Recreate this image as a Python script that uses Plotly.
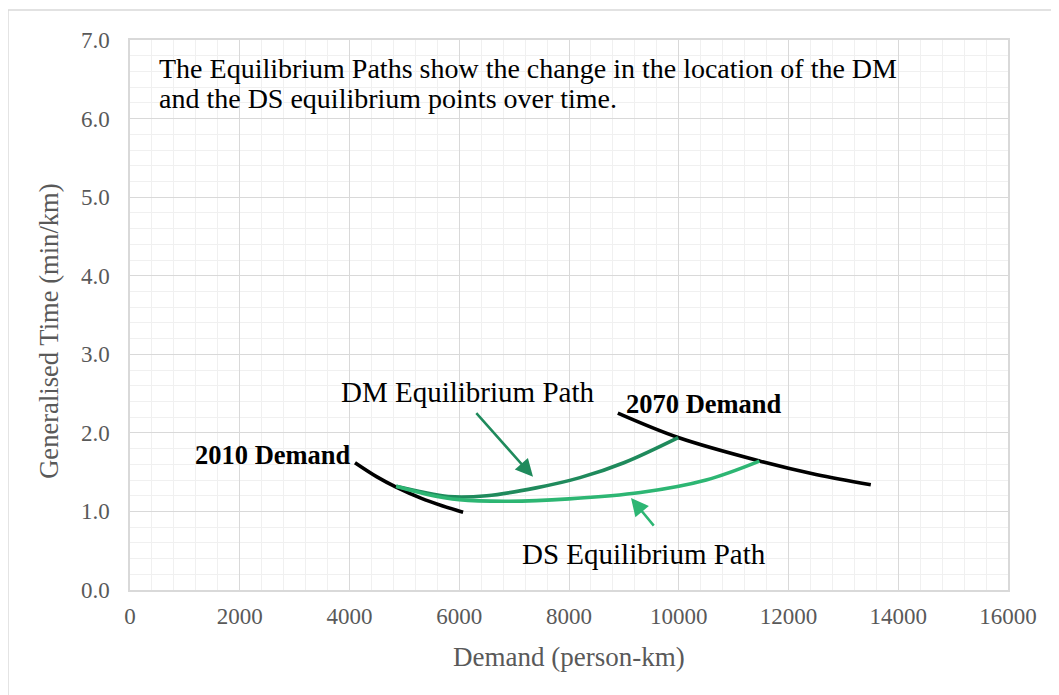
import plotly.graph_objects as go

# demand curves (person-km vs generalised time)
d2010_x = [4100, 4500, 4850, 5300, 5700, 6070]
d2010_y = [1.62, 1.44, 1.31, 1.17, 1.07, 0.99]
d2070_x = [8890, 9990, 11480, 12500, 13500]
d2070_y = [2.25, 1.94, 1.64, 1.47, 1.34]

# equilibrium paths
dm_x = [4850, 5300, 5800, 6500, 7400, 8200, 9000, 9990]
dm_y = [1.32, 1.25, 1.19, 1.20, 1.30, 1.43, 1.62, 1.94]
ds_x = [4850, 5400, 6000, 6900, 8000, 9300, 10500, 11470]
ds_y = [1.32, 1.22, 1.15, 1.13, 1.16, 1.24, 1.40, 1.64]

x_ticks = [0, 2000, 4000, 6000, 8000, 10000, 12000, 14000, 16000]
y_ticks = [0, 1, 2, 3, 4, 5, 6, 7]

FONT = "Liberation Serif, Times New Roman, serif"
GREY = "#595959"
DM_COL = "#1f8a5c"
DS_COL = "#2db673"

fig = go.Figure()
fig.add_trace(go.Scatter(x=d2010_x, y=d2010_y, mode="lines", line=dict(color="black", width=3.6, shape="spline")))
fig.add_trace(go.Scatter(x=d2070_x, y=d2070_y, mode="lines", line=dict(color="black", width=3.6, shape="spline")))
fig.add_trace(go.Scatter(x=dm_x, y=dm_y, mode="lines", line=dict(color=DM_COL, width=3.6, shape="spline")))
fig.add_trace(go.Scatter(x=ds_x, y=ds_y, mode="lines", line=dict(color=DS_COL, width=3.6, shape="spline")))

ann = []
# explanatory note
ann.append(dict(x=492, y=6.64, xref="x", yref="y", text="The Equilibrium Paths show the change in the location of the DM",
                showarrow=False, xanchor="left", yanchor="middle", font=dict(size=28, color="black", family=FONT)))
ann.append(dict(x=492, y=6.26, xref="x", yref="y", text="and the DS equilibrium points over time.",
                showarrow=False, xanchor="left", yanchor="middle", font=dict(size=28, color="black", family=FONT)))
# labels
ann.append(dict(x=6150, y=2.52, xref="x", yref="y", text="DM Equilibrium Path", showarrow=False,
                font=dict(size=29, color="black", family=FONT)))
ann.append(dict(x=9358, y=0.46, xref="x", yref="y", text="DS Equilibrium Path", showarrow=False,
                font=dict(size=29, color="black", family=FONT)))
ann.append(dict(x=2606, y=1.72, xref="x", yref="y", text="<b>2010 Demand</b>", showarrow=False,
                font=dict(size=26.5, color="black", family=FONT)))
ann.append(dict(x=10460, y=2.37, xref="x", yref="y", text="<b>2070 Demand</b>", showarrow=False,
                font=dict(size=26.5, color="black", family=FONT)))
# arrows
ann.append(dict(x=7344, y=1.44, ax=6287, ay=2.27, xref="x", yref="y", axref="x", ayref="y", text="",
                showarrow=True, arrowhead=2, arrowsize=1.4, arrowwidth=2.5, arrowcolor=DM_COL))
ann.append(dict(x=9130, y=1.17, ax=9567, ay=0.80, xref="x", yref="y", axref="x", ayref="y", text="",
                showarrow=True, arrowhead=2, arrowsize=1.4, arrowwidth=2.5, arrowcolor=DS_COL))
# axis titles
ann.append(dict(x=0.5, y=-0.122, xref="paper", yref="paper", text="Demand (person-km)", showarrow=False,
                yanchor="middle", font=dict(size=27, color=GREY, family=FONT)))
ann.append(dict(x=-0.093, y=0.47, xref="paper", yref="paper", text="Generalised Time (min/km)", showarrow=False,
                textangle=-90, xanchor="center", yanchor="middle", font=dict(size=26.6, color=GREY, family=FONT)))

fig.update_layout(
    width=1059, height=695,
    margin=dict(l=122, r=59, t=32, b=113),
    paper_bgcolor="white", plot_bgcolor="white",
    showlegend=False,
    annotations=ann,
    shapes=[dict(type="rect", xref="paper", yref="paper", x0=-0.139, y0=-0.25, x1=1.1, y1=1.0545,
                 line=dict(color="#d9d9d9", width=1.5), layer="below")],
    font=dict(family=FONT, color=GREY, size=23),
)
fig.update_xaxes(range=[0, 16000], tickvals=x_ticks, ticktext=[str(v) for v in x_ticks],
                 showgrid=True, gridcolor="#d9d9d9", gridwidth=1.3,
                 minor=dict(dtick=400, showgrid=True, gridcolor="#f0f0f0", gridwidth=1.3),
                 showline=True, linecolor="#d9d9d9", linewidth=1.5, mirror=True, zeroline=False,
                 ticks="", ticklabelstandoff=5, tickfont=dict(size=23, color=GREY, family=FONT))
fig.update_yaxes(range=[0, 7], tickvals=y_ticks, ticktext=["%.1f" % v for v in y_ticks],
                 showgrid=True, gridcolor="#d9d9d9", gridwidth=1.3,
                 minor=dict(dtick=0.2, showgrid=True, gridcolor="#f0f0f0", gridwidth=1.3),
                 showline=True, linecolor="#d9d9d9", linewidth=1.5, mirror=True, zeroline=False,
                 ticks="", ticklabelstandoff=14, tickfont=dict(size=23, color=GREY, family=FONT))

fig.write_html("out.html")
